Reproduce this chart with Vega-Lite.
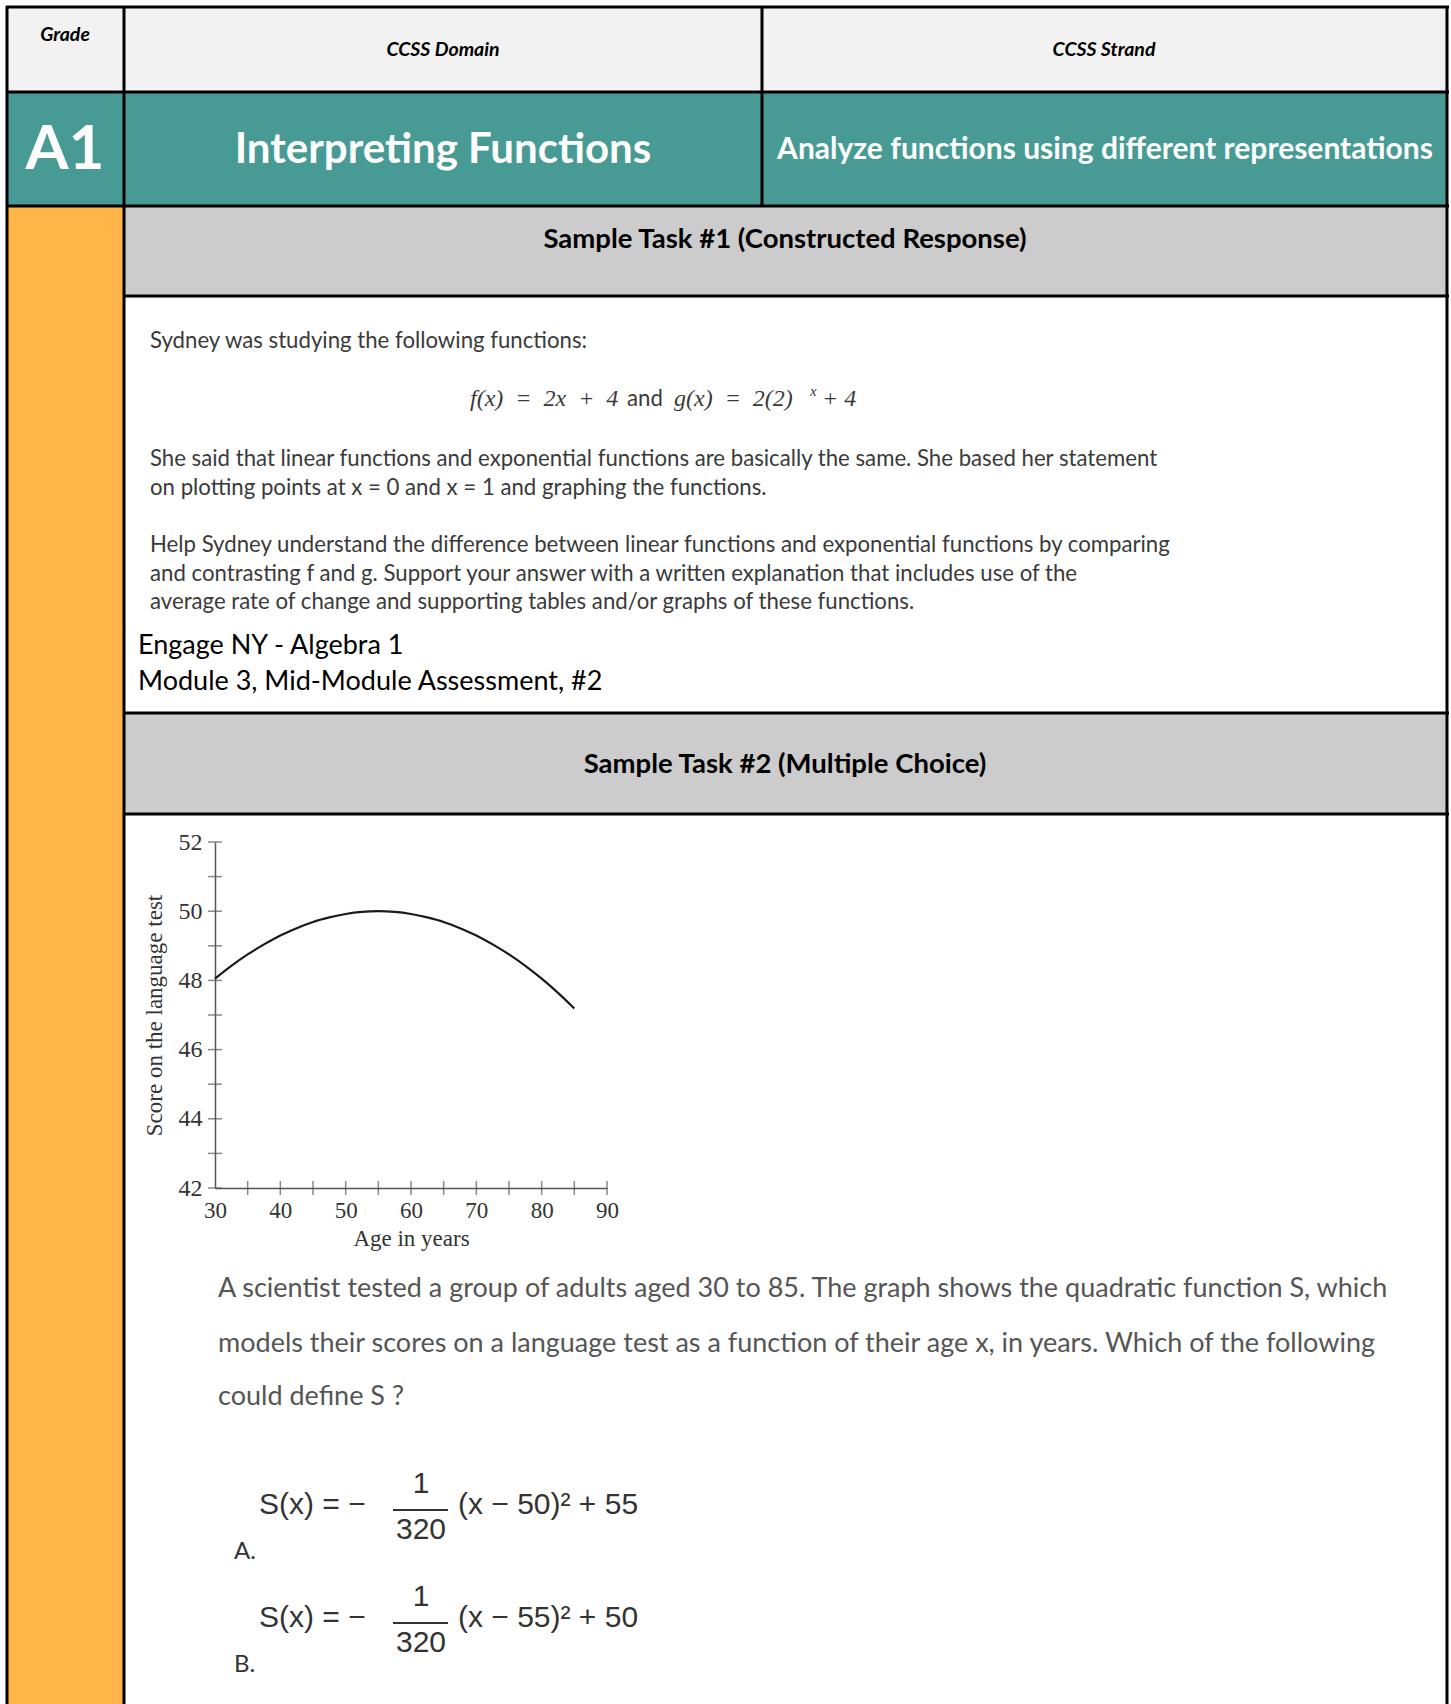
{
  "$schema": "https://vega.github.io/schema/vega-lite/v6.json",
  "width": 1451,
  "height": 1704,
  "padding": 0,
  "autosize": {"type": "none"},
  "background": "white",
  "config": {"view": {"stroke": null}},
  "datasets": {
    "cells": [
      {"cell": "head", "px": 8, "px2": 1447, "py": 7, "py2": 92},
      {"cell": "teal", "px": 8, "px2": 1447, "py": 92, "py2": 206},
      {"cell": "side", "px": 8, "px2": 124, "py": 206, "py2": 1704},
      {"cell": "band", "px": 124, "px2": 1447, "py": 206, "py2": 296},
      {"cell": "band", "px": 124, "px2": 1447, "py": 713, "py2": 814}
    ],
    "borders": [
      {"px": 6, "px2": 1449, "py": 7, "py2": 7},
      {"px": 6, "px2": 1449, "py": 92, "py2": 92},
      {"px": 6, "px2": 1449, "py": 206, "py2": 206},
      {"px": 124, "px2": 1449, "py": 296, "py2": 296},
      {"px": 124, "px2": 1449, "py": 713, "py2": 713},
      {"px": 124, "px2": 1449, "py": 814, "py2": 814},
      {"px": 7, "px2": 7, "py": 6, "py2": 1704},
      {"px": 124, "px2": 124, "py": 6, "py2": 1704},
      {"px": 762, "px2": 762, "py": 6, "py2": 206},
      {"px": 1447, "px2": 1447, "py": 6, "py2": 1704}
    ],
    "fracbars": [
      {"px": 393, "px2": 448, "py": 1510, "py2": 1510},
      {"px": 393, "px2": 448, "py": 1623, "py2": 1623}
    ],
    "texts": [
      {"role": "hdr", "text": "Grade", "px": 65, "py": 35},
      {"role": "hdr", "text": "CCSS Domain", "px": 443, "py": 50},
      {"role": "hdr", "text": "CCSS Strand", "px": 1104, "py": 50},
      {"role": "a1", "text": "A1", "px": 65, "py": 150},
      {"role": "t1", "text": "Interpreting Functions", "px": 443, "py": 150},
      {"role": "t2", "text": "Analyze functions using different representations", "px": 1105, "py": 150},
      {"role": "band", "text": "Sample Task #1 (Constructed Response)", "px": 785, "py": 240},
      {"role": "band", "text": "Sample Task #2 (Multiple Choice)", "px": 785, "py": 765},
      {"role": "para", "text": "Sydney was studying the following functions:", "px": 150, "py": 341},
      {"role": "mathi", "text": "f(x)\u2002=\u20022x\u2002+\u20024", "px": 470, "py": 399},
      {"role": "para", "text": "and", "px": 627, "py": 399},
      {"role": "mathi", "text": "g(x)\u2002=\u20022(2)", "px": 674, "py": 399},
      {"role": "sup", "text": "x", "px": 810, "py": 391},
      {"role": "mathi", "text": "+ 4", "px": 822, "py": 399},
      {"role": "para", "text": "She said that linear functions and exponential functions are basically the same.  She based her statement", "px": 150, "py": 459},
      {"role": "para", "text": "on plotting points at x = 0 and x = 1 and graphing the functions.", "px": 150, "py": 488},
      {"role": "para", "text": "Help Sydney understand the difference between linear functions and exponential functions by comparing", "px": 150, "py": 545},
      {"role": "para", "text": "and contrasting f and g.  Support your answer with a written explanation that includes use of the", "px": 150, "py": 574},
      {"role": "para", "text": "average rate of change and supporting tables and/or graphs of these functions.", "px": 150, "py": 602},
      {"role": "src", "text": "Engage NY - Algebra 1", "px": 138, "py": 646},
      {"role": "src", "text": "Module 3, Mid-Module Assessment, #2", "px": 138, "py": 682},
      {"role": "q", "text": "A scientist tested a group of adults aged 30 to 85. The graph shows the quadratic function S, which", "px": 218, "py": 1289},
      {"role": "q", "text": "models their scores on a language test as a function of their age x, in years. Which of the following", "px": 218, "py": 1344},
      {"role": "q", "text": "could define S ?", "px": 218, "py": 1397},
      {"role": "optL", "text": "S(x) = −", "px": 259, "py": 1505},
      {"role": "optC", "text": "1", "px": 421, "py": 1484},
      {"role": "optC", "text": "320", "px": 421, "py": 1530},
      {"role": "optL", "text": "(x − 50)² + 55", "px": 458, "py": 1505},
      {"role": "lbl", "text": "A.", "px": 234, "py": 1552},
      {"role": "optL", "text": "S(x) = −", "px": 259, "py": 1618},
      {"role": "optC", "text": "1", "px": 421, "py": 1597},
      {"role": "optC", "text": "320", "px": 421, "py": 1643},
      {"role": "optL", "text": "(x − 55)² + 50", "px": 458, "py": 1618},
      {"role": "lbl", "text": "B.", "px": 234, "py": 1665}
    ],
    "curve": [
      {"age": 30, "score": 48.05},
      {"age": 32.5, "score": 48.42},
      {"age": 35, "score": 48.75},
      {"age": 37.5, "score": 49.04},
      {"age": 40, "score": 49.3},
      {"age": 42.5, "score": 49.51},
      {"age": 45, "score": 49.69},
      {"age": 47.5, "score": 49.82},
      {"age": 50, "score": 49.92},
      {"age": 52.5, "score": 49.98},
      {"age": 55, "score": 50.0},
      {"age": 57.5, "score": 49.98},
      {"age": 60, "score": 49.92},
      {"age": 62.5, "score": 49.82},
      {"age": 65, "score": 49.69},
      {"age": 67.5, "score": 49.51},
      {"age": 70, "score": 49.3},
      {"age": 72.5, "score": 49.04},
      {"age": 75, "score": 48.75},
      {"age": 77.5, "score": 48.42},
      {"age": 80, "score": 48.05},
      {"age": 82.5, "score": 47.64},
      {"age": 85, "score": 47.19}
    ],
    "yticks": [
      {"score": 42}, {"score": 43}, {"score": 44}, {"score": 45}, {"score": 46}, {"score": 47},
      {"score": 48}, {"score": 49}, {"score": 50}, {"score": 51}, {"score": 52}
    ],
    "xticks": [
      {"age": 35}, {"age": 40}, {"age": 45}, {"age": 50}, {"age": 55}, {"age": 60},
      {"age": 65}, {"age": 70}, {"age": 75}, {"age": 80}, {"age": 85}, {"age": 90}
    ]
  },
  "layer": [
    {
      "encoding": {
        "x": {"field": "px", "type": "quantitative", "scale": {"domain": [0, 1451], "nice": false, "zero": false}, "axis": null},
        "y": {"field": "py", "type": "quantitative", "scale": {"domain": [0, 1704], "reverse": true, "nice": false, "zero": false}, "axis": null}
      },
      "layer": [
        {
          "data": {"name": "cells"},
          "mark": {"type": "rect"},
          "encoding": {
            "x2": {"field": "px2"},
            "y2": {"field": "py2"},
            "color": {"field": "cell", "type": "nominal", "legend": null,
              "scale": {"domain": ["head", "teal", "side", "band"], "range": ["#f2f2f2", "#479b94", "#ffb547", "#cccccc"]}}
          }
        },
        {
          "data": {"name": "borders"},
          "mark": {"type": "rule", "color": "#000000", "strokeWidth": 3},
          "encoding": {"x2": {"field": "px2"}, "y2": {"field": "py2"}}
        },
        {
          "data": {"name": "fracbars"},
          "mark": {"type": "rule", "color": "#333333", "strokeWidth": 2},
          "encoding": {"x2": {"field": "px2"}, "y2": {"field": "py2"}}
        },
        {
          "data": {"name": "texts"},
          "transform": [{"filter": "datum.role === 'hdr'"}],
          "mark": {"type": "text", "font": "Lato", "fontSize": 19.5, "fontWeight": "bold", "fontStyle": "italic", "color": "#000000", "align": "center", "baseline": "middle"},
          "encoding": {"text": {"field": "text"}}
        },
        {
          "data": {"name": "texts"},
          "transform": [{"filter": "datum.role === 'a1'"}],
          "mark": {"type": "text", "font": "Lato", "fontSize": 62, "fontWeight": "bold", "color": "#ffffff", "align": "center", "baseline": "middle"},
          "encoding": {"text": {"field": "text"}}
        },
        {
          "data": {"name": "texts"},
          "transform": [{"filter": "datum.role === 't1'"}],
          "mark": {"type": "text", "font": "Lato", "fontSize": 42, "fontWeight": "bold", "color": "#ffffff", "align": "center", "baseline": "middle"},
          "encoding": {"text": {"field": "text"}}
        },
        {
          "data": {"name": "texts"},
          "transform": [{"filter": "datum.role === 't2'"}],
          "mark": {"type": "text", "font": "Lato", "fontSize": 30, "fontWeight": "bold", "color": "#ffffff", "align": "center", "baseline": "middle"},
          "encoding": {"text": {"field": "text"}}
        },
        {
          "data": {"name": "texts"},
          "transform": [{"filter": "datum.role === 'band'"}],
          "mark": {"type": "text", "font": "Lato", "fontSize": 27.5, "fontWeight": "bold", "color": "#000000", "align": "center", "baseline": "middle"},
          "encoding": {"text": {"field": "text"}}
        },
        {
          "data": {"name": "texts"},
          "transform": [{"filter": "datum.role === 'para'"}],
          "mark": {"type": "text", "font": "Lato", "fontSize": 22.2, "color": "#3a3a3a", "align": "left", "baseline": "middle"},
          "encoding": {"text": {"field": "text"}}
        },
        {
          "data": {"name": "texts"},
          "transform": [{"filter": "datum.role === 'mathi'"}],
          "mark": {"type": "text", "font": "Liberation Serif", "fontSize": 24, "fontStyle": "italic", "color": "#3a3a3a", "align": "left", "baseline": "middle"},
          "encoding": {"text": {"field": "text"}}
        },
        {
          "data": {"name": "texts"},
          "transform": [{"filter": "datum.role === 'sup'"}],
          "mark": {"type": "text", "font": "Liberation Serif", "fontSize": 15, "fontStyle": "italic", "color": "#3a3a3a", "align": "left", "baseline": "middle"},
          "encoding": {"text": {"field": "text"}}
        },
        {
          "data": {"name": "texts"},
          "transform": [{"filter": "datum.role === 'src'"}],
          "mark": {"type": "text", "font": "Lato", "fontSize": 27, "color": "#000000", "align": "left", "baseline": "middle"},
          "encoding": {"text": {"field": "text"}}
        },
        {
          "data": {"name": "texts"},
          "transform": [{"filter": "datum.role === 'q'"}],
          "mark": {"type": "text", "font": "Lato", "fontSize": 27, "color": "#555555", "align": "left", "baseline": "middle"},
          "encoding": {"text": {"field": "text"}}
        },
        {
          "data": {"name": "texts"},
          "transform": [{"filter": "datum.role === 'optL'"}],
          "mark": {"type": "text", "font": "Liberation Sans", "fontSize": 30, "color": "#333333", "align": "left", "baseline": "middle"},
          "encoding": {"text": {"field": "text"}}
        },
        {
          "data": {"name": "texts"},
          "transform": [{"filter": "datum.role === 'optC'"}],
          "mark": {"type": "text", "font": "Liberation Sans", "fontSize": 30, "color": "#333333", "align": "center", "baseline": "middle"},
          "encoding": {"text": {"field": "text"}}
        },
        {
          "data": {"name": "texts"},
          "transform": [{"filter": "datum.role === 'lbl'"}],
          "mark": {"type": "text", "font": "Lato", "fontSize": 24, "color": "#333333", "align": "left", "baseline": "middle"},
          "encoding": {"text": {"field": "text"}}
        }
      ]
    },
    {
      "layer": [
        {
          "data": {"name": "curve"},
          "mark": {"type": "line", "color": "#1a1a1a", "strokeWidth": 2.2, "interpolate": "monotone"},
          "encoding": {
            "x": {"field": "age", "type": "quantitative",
              "scale": {"domain": [30, 90], "range": [215, 607], "nice": false, "zero": false},
              "axis": {"orient": "bottom", "offset": -516, "values": [30, 40, 50, 60, 70, 80, 90], "format": "d", "ticks": false, "grid": false,
                "domainColor": "#555555", "domainWidth": 1.5, "labelFont": "Liberation Serif", "labelFontSize": 23, "labelColor": "#333333",
                "labelPadding": 11, "labelFlush": false, "labelOverlap": false,
                "title": "Age in years", "titleFont": "Liberation Serif", "titleFontSize": 23, "titleFontWeight": "normal", "titleColor": "#333333", "titlePadding": 5}},
            "y": {"field": "score", "type": "quantitative",
              "scale": {"domain": [42, 52], "range": [1188, 842], "nice": false, "zero": false},
              "axis": {"orient": "left", "offset": -215, "values": [42, 44, 46, 48, 50, 52], "format": "d", "ticks": false, "grid": false,
                "domainColor": "#555555", "domainWidth": 1.5, "labelFont": "Liberation Serif", "labelFontSize": 24, "labelColor": "#333333",
                "labelPadding": 13, "labelFlush": false, "labelOverlap": false,
                "title": "Score on the language test", "titleFont": "Liberation Serif", "titleFontSize": 23, "titleFontWeight": "normal", "titleColor": "#333333", "titlePadding": 12}}
          }
        },
        {
          "data": {"name": "yticks"},
          "mark": {"type": "tick", "orient": "horizontal", "size": 14, "thickness": 1.5, "color": "#555555"},
          "encoding": {
            "x": {"datum": 30, "type": "quantitative"},
            "y": {"field": "score", "type": "quantitative"}
          }
        },
        {
          "data": {"name": "xticks"},
          "mark": {"type": "tick", "orient": "vertical", "size": 14, "thickness": 1.5, "color": "#555555"},
          "encoding": {
            "x": {"field": "age", "type": "quantitative"},
            "y": {"datum": 42, "type": "quantitative"}
          }
        }
      ]
    }
  ],
  "resolve": {"scale": {"x": "independent", "y": "independent"}, "axis": {"x": "independent", "y": "independent"}}
}
